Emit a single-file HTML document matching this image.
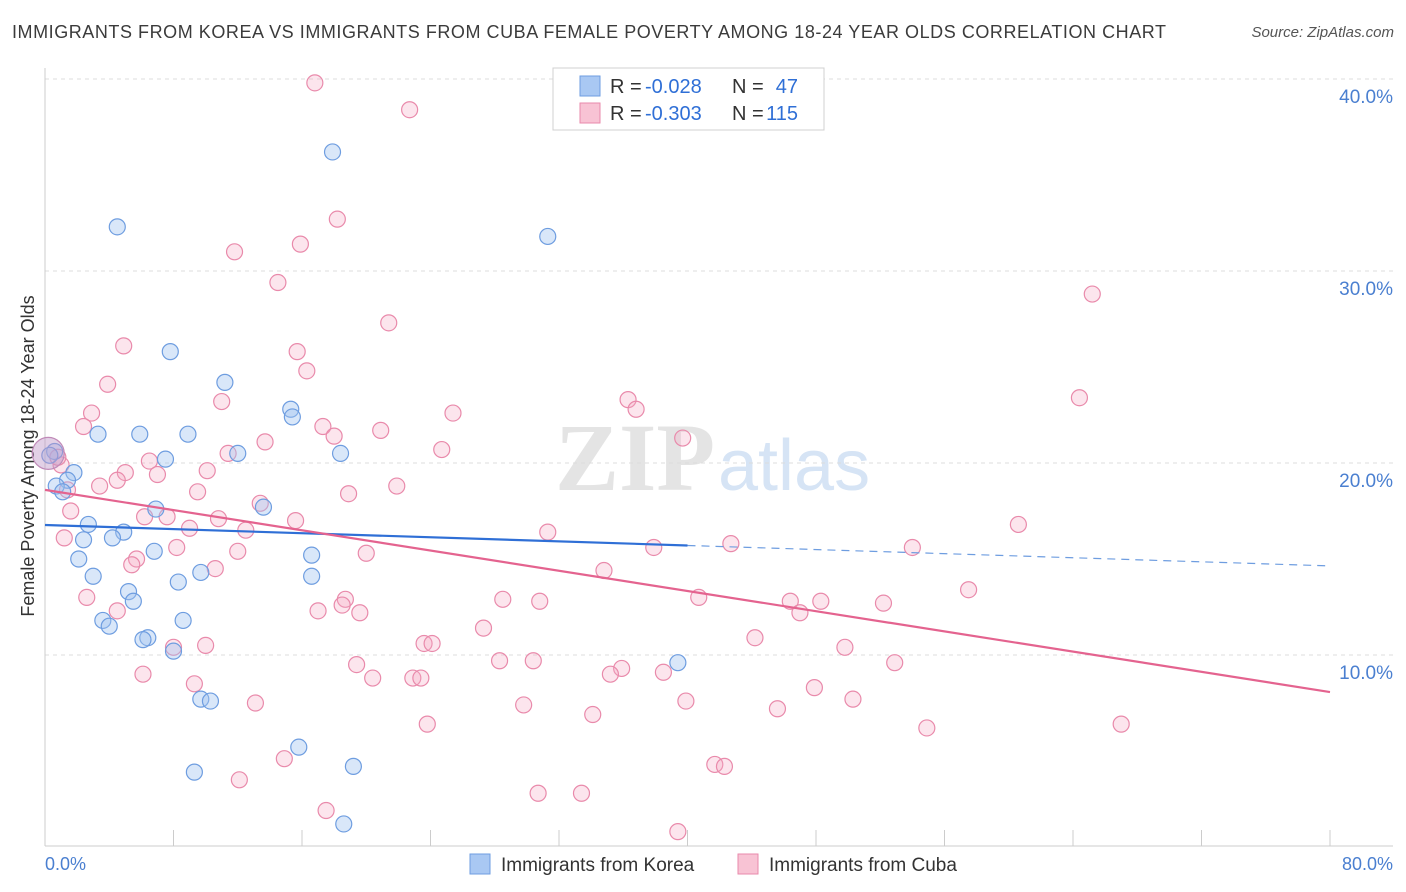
<!DOCTYPE html>
<html><head><meta charset="utf-8">
<style>
body{margin:0;background:#fff;font-family:"Liberation Sans",sans-serif;}
#wrap{position:relative;width:1406px;height:892px;overflow:hidden;}
.title{position:absolute;left:12px;top:22px;font-size:18px;color:#3b3b3b;letter-spacing:0.55px;white-space:nowrap}
.source{position:absolute;right:12px;top:24px;font-size:15px;color:#555;font-style:italic}
</style></head><body>
<div id="wrap">
<div class="title">IMMIGRANTS FROM KOREA VS IMMIGRANTS FROM CUBA FEMALE POVERTY AMONG 18-24 YEAR OLDS CORRELATION CHART</div>
<div class="source">Source: ZipAtlas.com</div>
<svg id="chart" width="1406" height="892" style="position:absolute;left:0;top:0"></svg>
</div>
<script>
const xTickVals=[0,8,16,24,32,40,48,56,64,72,80];
const yTickVals=[10,20,30,40];
const yTickLabels=["10.0%","20.0%","30.0%","40.0%"];
const xEndLabels=["0.0%","80.0%"];
const koreaX=[17.9,4.5,31.3,7.8,11.2,15.3,15.4,3.3,5.9,8.9,12.0,18.4,7.5,0.6,0.3,1.8,1.4,0.7,1.1,13.6,6.9,2.7,4.9,2.4,4.2,6.8,2.1,16.6,3.0,9.7,8.3,16.6,5.2,5.5,8.6,3.6,4.0,6.4,6.1,8.0,39.4,9.7,10.3,15.8,9.3,19.2,18.6];
const koreaY=[36.2,32.3,31.8,25.8,24.2,22.8,22.4,21.5,21.5,21.5,20.5,20.5,20.2,20.6,20.4,19.5,19.1,18.8,18.5,17.7,17.6,16.8,16.4,16.0,16.1,15.4,15.0,15.2,14.1,14.3,13.8,14.1,13.3,12.8,11.8,11.8,11.5,10.9,10.8,10.2,9.6,7.7,7.6,5.2,3.9,4.2,1.2];
const cubaX=[16.8,22.7,18.2,11.8,15.9,14.5,65.2,21.4,4.9,15.7,16.3,3.9,11.0,2.9,25.4,36.3,36.8,64.4,2.4,17.3,18.0,20.9,13.7,24.7,39.7,11.4,6.5,1.0,5.0,10.1,7.0,4.5,3.4,1.4,9.5,18.9,21.9,13.4,1.6,6.2,7.6,10.8,15.6,9.0,12.5,31.3,1.2,42.7,8.2,12.0,37.9,54.0,60.6,20.0,5.7,5.4,10.6,34.8,57.5,2.6,28.5,18.7,40.7,30.8,46.4,48.3,52.2,4.5,17.0,18.5,19.6,27.3,47.0,44.2,23.6,24.1,49.8,10.0,8.0,19.4,28.3,30.4,35.9,52.9,38.5,35.2,6.1,20.4,22.9,23.4,9.3,47.9,29.8,39.9,50.3,13.1,34.1,45.6,23.8,54.9,67.0,14.9,41.7,42.3,12.1,30.7,33.4,17.5,39.4,0.8];
const cubaY=[39.8,38.4,32.7,31.0,31.4,29.4,28.8,27.3,26.1,25.8,24.8,24.1,23.2,22.6,22.6,23.3,22.8,23.4,21.9,21.9,21.4,21.7,21.1,20.7,21.3,20.5,20.1,19.9,19.5,19.6,19.4,19.1,18.8,18.6,18.5,18.4,18.8,17.9,17.5,17.2,17.2,17.1,17.0,16.6,16.5,16.4,16.1,15.8,15.6,15.4,15.6,15.6,16.8,15.3,15.0,14.7,14.5,14.4,13.4,13.0,12.9,12.9,13.0,12.8,12.8,12.8,12.7,12.3,12.3,12.6,12.2,11.4,12.2,10.9,10.6,10.6,10.4,10.5,10.4,9.5,9.7,9.7,9.3,9.6,9.1,9.0,9.0,8.8,8.8,8.8,8.5,8.3,7.4,7.6,7.7,7.5,6.9,7.2,6.4,6.2,6.4,4.6,4.3,4.2,3.5,2.8,2.8,1.9,0.8,20.3];
const koreaTrend=[16.77,14.64];
const cubaTrend=[18.6,8.07];
const legendR=["-0.028","-0.303"];
const legendN=["47","115"];

const NS="http://www.w3.org/2000/svg";
const svg=document.getElementById('chart');
const X0=45,X1=1330,Y0=847,PPY=19.2;
const sx=v=>X0+(v/80)*(X1-X0);
const sy=v=>Y0-v*PPY;
function el(tag,attrs,parent){const e=document.createElementNS(NS,tag);for(const k in attrs)e.setAttribute(k,attrs[k]);(parent||svg).appendChild(e);return e;}

let wm=el('text',{x:555,y:490,'font-size':96,'font-family':'Liberation Serif,serif',fill:'#e4e4e4','font-weight':'bold'});


wm.textContent='ZIP';
let wm2=el('text',{x:718,y:490,'font-size':72,'font-family':'Liberation Sans,sans-serif',fill:'#d6e4f5'});


wm2.textContent='atlas';

yTickVals.forEach((v,i)=>{
 const g=el('line',{x1:X0,x2:1393,y1:sy(v),y2:sy(v),stroke:'#dcdcdc','stroke-dasharray':'4,4'});
 
 
 const t=el('text',{x:1393,y:sy(v)+24,'text-anchor':'end','font-size':19,fill:'#4a7fd0'});
 
 
 t.textContent=yTickLabels[i];
});
let ya=el('line',{x1:X0,x2:X0,y1:68,y2:846,stroke:'#ccc'});


let xa=el('line',{x1:X0,x2:1393,y1:846,y2:846,stroke:'#ccc'});


xTickVals.forEach(v=>{
 const t=el('line',{x1:sx(v),x2:sx(v),y1:830,y2:846,stroke:'#ccc'});
 
 
});
let xl0=el('text',{x:45,y:870,'font-size':18,fill:'#4a7fd0'});


xl0.textContent=xEndLabels[0];
let xl1=el('text',{x:1393,y:870,'text-anchor':'end','font-size':18,fill:'#4a7fd0'});


xl1.textContent=xEndLabels[1];
let yt=el('text',{x:34,y:456,'text-anchor':'middle','font-size':18,fill:'#333',transform:'rotate(-90 34 456)'});


yt.textContent='Female Poverty Among 18-24 Year Olds';

cubaX.forEach((x,i)=>{
 const c=el('circle',{cx:sx(x),cy:sy(cubaY[i]),r:8,fill:'rgba(245,170,195,0.3)',stroke:'#e98aab','stroke-width':1.2});
 
 
});
koreaX.forEach((x,i)=>{
 const c=el('circle',{cx:sx(x),cy:sy(koreaY[i]),r:8,fill:'rgba(160,195,240,0.4)',stroke:'#6e9de0','stroke-width':1.2});
 
 
});
let big=el('circle',{cx:sx(0.2),cy:sy(20.5),r:16,fill:'rgba(190,150,200,0.45)',stroke:'#c08ab8','stroke-width':1.2});



const kMid=koreaTrend[0]+(koreaTrend[1]-koreaTrend[0])*0.5;
let kt=el('line',{x1:sx(0),y1:sy(koreaTrend[0]),x2:sx(40),y2:sy(kMid),stroke:'#2f6fd6','stroke-width':2.2});


let kd=el('line',{x1:sx(40),y1:sy(kMid),x2:sx(80),y2:sy(koreaTrend[1]),stroke:'#6e9de0','stroke-width':1.2,'stroke-dasharray':'8,6'});


let ct=el('line',{x1:sx(0),y1:sy(cubaTrend[0]),x2:sx(80),y2:sy(cubaTrend[1]),stroke:'#e4638f','stroke-width':2.2});



let lg=el('rect',{x:553,y:68,width:271,height:62,fill:'#fff',stroke:'#d0d0d0'});


[[0,'#a9c8f3','#6e9de0'],[1,'#f8c3d4','#e98aab']].forEach(r=>{
 const y=86+r[0]*27;
 const s=el('rect',{x:580,y:y-10,width:20,height:20,fill:r[1],stroke:r[2]});
 
 
 const a=el('text',{x:610,y:y+7,'font-size':20,fill:'#333'});
 
 
 a.textContent='R =';
 const b=el('text',{x:645,y:y+7,'font-size':20,fill:'#2f6fd6'});
 
 
 b.textContent=legendR[r[0]];
 const c=el('text',{x:732,y:y+7,'font-size':20,fill:'#333'});
 
 
 c.textContent='N =';
 const d=el('text',{x:798,y:y+7,'text-anchor':'end','font-size':20,fill:'#2f6fd6'});
 
 
 d.textContent=legendN[r[0]];
});
[[470,'#a9c8f3','#6e9de0','Immigrants from Korea','legend-entry-korea'],[738,'#f8c3d4','#e98aab','Immigrants from Cuba','legend-entry-cuba']].forEach(r=>{
 const s=el('rect',{x:r[0],y:854,width:20,height:20,fill:r[1],stroke:r[2]});
 
 
 const t=el('text',{x:r[0]+31,y:871,'font-size':19,fill:'#333'});
 
 
 t.textContent=r[3];
});
</script>
</body></html>
